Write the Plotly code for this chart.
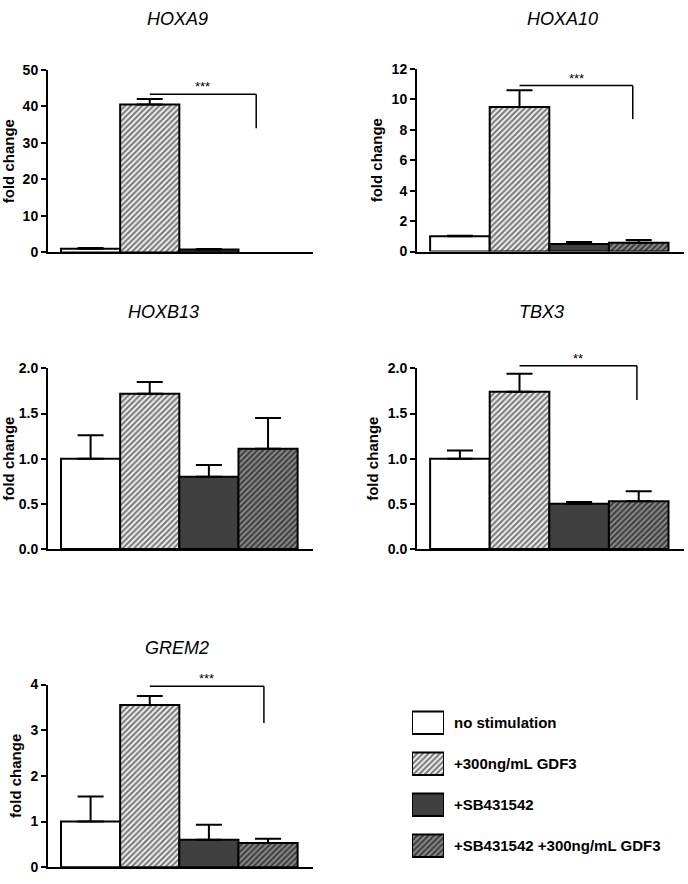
import plotly.graph_objects as go

# --- data ---
conditions = ['no stimulation', '+300ng/mL GDF3', '+SB431542', '+SB431542 +300ng/mL GDF3']

hoxa9_mean = [1.0, 40.5, 0.8, None]
hoxa9_top = [1.2, 42.0, 0.95, None]

hoxa10_mean = [1.0, 9.5, 0.5, 0.58]
hoxa10_top = [1.03, 10.6, 0.62, 0.75]

hoxb13_mean = [1.0, 1.72, 0.8, 1.11]
hoxb13_top = [1.26, 1.85, 0.93, 1.45]

tbx3_mean = [1.0, 1.74, 0.5, 0.53]
tbx3_top = [1.09, 1.94, 0.52, 0.64]

grem2_mean = [1.0, 3.55, 0.6, 0.53]
grem2_top = [1.55, 3.75, 0.93, 0.62]

# significance brackets: (label, from bar, to bar, height, drop)
hoxa9_sig = ('***', 1.0, 2.8, 43.3, 34.0)
hoxa10_sig = ('***', 1.0, 2.9, 10.9, 8.7)
tbx3_sig = ('**', 1.0, 2.97, 2.03, 1.65)
grem2_sig = ('***', 1.0, 2.93, 3.96, 3.16)

FONT = 'Liberation Sans, Arial, sans-serif'
DARK = '#404040'
XR = [-0.72, 3.76]

# styles per condition
fills = [
    dict(color='white', pattern=dict(shape='')),
    dict(color='white', pattern=dict(shape='/', fgcolor='black', bgcolor='white', size=4, solidity=0.6)),
    dict(color=DARK, pattern=dict(shape='')),
    dict(color=DARK, pattern=dict(shape='/', fgcolor='#e0e0e0', bgcolor=DARK, size=4, solidity=0.45)),
]

fig = go.Figure()

LEFT = [48 / 688, 313 / 688]
RIGHT = [417 / 688, 684 / 688]

def ydom(zero_px, top_px):
    return [1 - zero_px / 884, 1 - top_px / 884]

panels = [
    ('HOXA9', hoxa9_mean, hoxa9_top, hoxa9_sig, LEFT, ydom(249, 63), [0, 50], 10, (177, 11)),
    ('HOXA10', hoxa10_mean, hoxa10_top, hoxa10_sig, RIGHT, ydom(248, 62), [0, 12], 2, (562, 11)),
    ('HOXB13', hoxb13_mean, hoxb13_top, None, LEFT, ydom(551, 367), [0, 2], 0.5, (163, 310)),
    ('TBX3', tbx3_mean, tbx3_top, tbx3_sig, RIGHT, ydom(551, 367), [0, 2], 0.5, (541, 310)),
    ('GREM2', grem2_mean, grem2_top, grem2_sig, LEFT, ydom(875, 689), [0, 4], 1, (177, 652)),
]

shapes = []
annotations = []
layout = {}

for i, (name, mean, top, sig, xd, yd, yr, dt, tpos) in enumerate(panels):
    n = '' if i == 0 else str(i + 1)
    xa, ya = 'x' + n, 'y' + n
    for k in range(4):
        v = mean[k]
        err = None if v is None else top[k] - v
        fig.add_trace(go.Bar(
            x=[k], y=[v], width=1, xaxis=xa, yaxis=ya,
            marker=dict(color=fills[k]['color'], pattern=fills[k]['pattern'],
                        line=dict(color='black', width=2)),
            error_y=dict(type='data', array=[err], arrayminus=[0], symmetric=False,
                         color='black', thickness=2, width=13),
            showlegend=False, hoverinfo='y'))
    layout['xaxis' + n] = dict(domain=xd, anchor=ya, range=XR, showline=True,
                               linewidth=2, linecolor='black', showticklabels=False,
                               ticks='', showgrid=False, zeroline=False, fixedrange=True)
    layout['yaxis' + n] = dict(domain=yd, anchor=xa, range=yr, dtick=dt, showline=True,
                               linewidth=2, linecolor='black', ticks='outside', ticklen=5,
                               tickwidth=2, tickcolor='black', showgrid=False, zeroline=False,
                               tickformat='.1f' if dt == 0.5 else 'd',
                               tickfont=dict(family=FONT, size=14, color='black', weight='bold'),
                               title=dict(text='fold change', standoff=5,
                                          font=dict(family=FONT, size=15, color='black', weight='bold')))
    annotations.append(dict(text='<i>' + name + '</i>', x=tpos[0] / 688, y=1 - tpos[1] / 884,
                            xref='paper', yref='paper', xanchor='center', yanchor='middle',
                            showarrow=False, font=dict(family=FONT, size=18, color='black')))
    if sig:
        # brackets go through axis-domain refs so they are not clipped above the top tick
        label, x0, x1, h, drop = sig
        fx = lambda v: (v - XR[0]) / (XR[1] - XR[0])
        fy = lambda v: (v - yr[0]) / (yr[1] - yr[0])
        xr_, yr_ = xa + ' domain', ya + ' domain'
        shapes.append(dict(type='line', xref=xr_, yref=yr_, x0=fx(x0), x1=fx(x1), y0=fy(h), y1=fy(h),
                           line=dict(color='black', width=1.5)))
        shapes.append(dict(type='line', xref=xr_, yref=yr_, x0=fx(x1), x1=fx(x1), y0=fy(h), y1=fy(drop),
                           line=dict(color='black', width=1.5)))
        annotations.append(dict(text=label, x=fx((x0 + x1) / 2), y=fy(h), xref=xr_, yref=yr_,
                                showarrow=False, xanchor='center', yanchor='bottom', yshift=-2,
                                font=dict(family=FONT, size=13, color='black')))

# legend drawn on its own hidden axis
for k, cond in enumerate(conditions):
    fig.add_trace(go.Bar(
        x=[1], y=[k], orientation='h', width=0.55, xaxis='x6', yaxis='y6',
        marker=dict(color=fills[k]['color'], pattern=fills[k]['pattern'],
                    line=dict(color='black', width=2)),
        showlegend=False, hoverinfo='skip'))
    annotations.append(dict(text='<b>' + cond + '</b>', x=452 / 688, y=k, xref='paper', yref='y6',
                            xanchor='left', yanchor='middle', showarrow=False,
                            font=dict(family=FONT, size=15, color='black')))
layout['xaxis6'] = dict(domain=[412 / 688, 444 / 688], anchor='y6', range=[0, 1], visible=False)
layout['yaxis6'] = dict(domain=[1 - 874 / 884, 1 - 707 / 884], anchor='x6', range=[3.5, -0.5],
                        visible=False)

fig.update_layout(width=688, height=884, margin=dict(l=0, r=0, t=0, b=0),
                  paper_bgcolor='white', plot_bgcolor='white', showlegend=False,
                  shapes=shapes, annotations=annotations, font=dict(family=FONT), **layout)

fig.write_html("out.html", config={'displayModeBar': False},
               post_script="document.body.style.margin='0';")
